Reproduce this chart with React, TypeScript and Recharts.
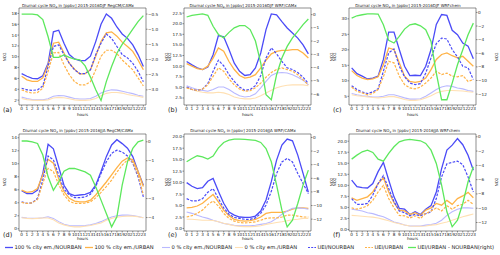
import React from 'react';
import { LineChart, Line, XAxis, YAxis, ReferenceLine } from 'recharts';

const HOURS = [0, 1, 2, 3, 4, 5, 6, 7, 8, 9, 10, 11, 12, 13, 14, 15, 16, 17, 18, 19, 20, 21, 22, 23];

// ---- Panel (a) DJF RegCM/CAMx
const a_nourban100 = [6.9, 6.4, 6.0, 5.95, 6.5, 8.8, 14.6, 14.9, 12.5, 10.4, 9.6, 9.3, 9.3, 10.1, 12.8, 16.0, 17.9, 17.1, 15.5, 14.2, 13.4, 12.2, 10.4, 8.2];
const a_urban100 = [6.4, 5.75, 5.45, 5.45, 6.1, 8.5, 12.5, 12.7, 10.7, 8.8, 7.7, 6.8, 6.9, 7.6, 10.1, 12.8, 14.4, 14.6, 13.8, 12.7, 11.9, 11.0, 9.4, 7.6];
const a_nourban0 = [2.55, 2.3, 2.1, 2.05, 2.05, 2.25, 2.7, 2.85, 2.8, 2.55, 2.3, 2.2, 2.2, 2.3, 2.7, 3.3, 3.7, 3.9, 3.85, 3.65, 3.4, 3.2, 2.9, 2.7];
const a_urban0 = [2.3, 2.1, 2.0, 1.95, 1.95, 2.05, 2.4, 2.5, 2.45, 2.25, 2.05, 1.95, 1.95, 2.05, 2.3, 2.8, 3.25, 3.4, 3.4, 3.3, 3.05, 2.85, 2.7, 2.5];
const a_nourbanUEI = [4.2, 3.9, 3.8, 3.9, 4.6, 8.2, 11.9, 12.2, 10.4, 8.8, 7.6, 6.9, 6.9, 7.6, 10.4, 12.5, 14.2, 13.4, 11.9, 10.4, 9.8, 8.8, 7.3, 5.4];
const a_urbanUEI = [3.9, 3.5, 3.3, 3.4, 4.2, 7.3, 10.7, 10.8, 8.5, 6.7, 5.4, 4.8, 4.8, 5.4, 7.6, 10.1, 11.2, 11.2, 10.6, 9.4, 8.5, 7.6, 6.1, 4.6];
const a_diff = [-0.5, -0.5, -0.5, -0.53, -0.68, -1.25, -1.93, -1.93, -1.85, -1.93, -1.99, -2.01, -2.21, -2.58, -3.0, -3.35, -2.73, -2.23, -1.79, -1.5, -1.25, -1.0, -0.75, -0.55];

// ---- Panel (b) DJF WRF/CAMx
const b_nourban100 = [11.1, 10.3, 9.6, 9.2, 9.8, 12.7, 17.2, 16.9, 13.9, 10.7, 8.8, 7.8, 8.0, 9.6, 13.1, 18.6, 22.3, 22.1, 20.5, 19.0, 17.8, 16.6, 15.0, 12.9];
const b_urban100 = [10.6, 10.0, 9.4, 9.2, 10.0, 11.9, 14.3, 13.5, 11.1, 9.2, 7.8, 7.2, 7.4, 8.0, 9.6, 11.4, 12.9, 13.5, 13.7, 13.7, 13.9, 13.9, 13.1, 11.9];
const b_nourban0 = [5.4, 4.9, 4.5, 4.3, 4.1, 4.5, 5.1, 5.1, 4.5, 3.7, 3.05, 2.75, 2.9, 3.5, 4.9, 6.4, 7.8, 8.4, 8.5, 8.4, 8.0, 7.4, 6.7, 5.6];
const b_urban0 = [4.9, 4.5, 4.1, 3.85, 3.7, 3.7, 3.85, 3.7, 3.3, 2.75, 2.45, 2.3, 2.3, 2.5, 3.05, 3.7, 4.3, 4.9, 5.25, 5.5, 5.6, 5.6, 5.6, 5.4];
const b_nourbanUEI = [5.1, 4.5, 4.3, 4.6, 5.9, 8.8, 11.4, 10.1, 8.0, 6.4, 5.1, 4.3, 4.5, 5.4, 7.8, 11.9, 14.3, 12.9, 11.1, 9.6, 9.2, 8.5, 7.4, 5.9];
const b_urbanUEI = [4.9, 4.5, 4.3, 4.6, 5.6, 7.6, 9.6, 8.8, 7.0, 5.6, 4.6, 4.1, 4.2, 4.9, 6.0, 7.4, 8.5, 9.2, 9.6, 9.2, 8.8, 8.0, 6.8, 5.6];
const b_diff = [-0.18, -0.05, 0.0, 0.05, -0.05, -0.88, -1.5, -1.76, -1.34, -1.0, -0.83, -0.83, -1.13, -2.0, -3.65, -6.05, -6.43, -4.54, -3.28, -2.4, -1.76, -1.26, -0.76, -0.33];

// ---- Panel (c) DJF WRFchem
const c_nourban100 = [14.2, 12.3, 11.5, 10.6, 10.9, 11.5, 16.9, 25.7, 25.7, 20.1, 14.7, 11.7, 11.8, 11.7, 14.7, 20.1, 28.2, 31.4, 31.1, 26.3, 24.9, 22.2, 21.2, 17.1];
const c_urban100 = [13.3, 11.7, 10.9, 10.4, 10.6, 11.3, 15.2, 20.6, 20.1, 15.8, 11.5, 9.8, 9.5, 9.8, 10.9, 13.6, 16.9, 18.5, 19.0, 18.1, 17.4, 17.9, 16.3, 14.7];
const c_nourban0 = [5.9, 5.5, 5.2, 5.0, 4.8, 4.8, 5.0, 5.5, 5.5, 5.0, 4.5, 4.1, 4.1, 4.2, 5.0, 6.1, 7.2, 8.0, 8.4, 8.2, 7.7, 7.4, 6.9, 6.6];
const c_urban0 = [5.5, 5.2, 5.0, 4.8, 4.6, 4.5, 4.6, 4.9, 4.9, 4.5, 4.0, 3.7, 3.7, 3.9, 4.5, 5.2, 6.1, 6.6, 6.9, 6.9, 6.8, 6.7, 6.5, 6.3];
const c_nourbanUEI = [8.4, 7.2, 6.4, 5.9, 6.4, 7.4, 13.1, 19.0, 20.3, 14.7, 11.3, 9.3, 8.8, 9.1, 12.5, 17.4, 22.0, 23.8, 23.5, 20.1, 17.7, 14.7, 14.2, 10.4];
const c_urbanUEI = [8.0, 6.6, 6.1, 5.5, 5.9, 7.2, 11.3, 16.3, 15.8, 11.5, 8.8, 7.7, 7.4, 8.0, 9.3, 10.9, 13.1, 12.0, 12.5, 11.5, 11.3, 11.7, 9.8, 10.4];
const c_diff = [-0.83, -0.49, -0.34, -0.2, -0.2, -0.24, -1.81, -4.11, -4.5, -3.53, -2.45, -1.81, -1.67, -1.96, -2.55, -4.26, -8.91, -12.83, -12.83, -10.38, -7.69, -5.48, -3.28, -1.57];

// ---- Panel (d) JJA RegCM/CAMx
const d_nourban100 = [5.85, 5.4, 5.4, 5.95, 8.5, 13.0, 12.3, 9.5, 6.7, 5.4, 5.1, 5.2, 5.3, 5.6, 6.7, 8.8, 11.1, 12.9, 13.7, 13.1, 12.4, 11.1, 8.8, 6.7];
const d_urban100 = [5.95, 5.6, 5.7, 6.2, 8.3, 10.7, 10.1, 7.7, 5.7, 4.7, 4.25, 4.15, 4.15, 4.4, 5.2, 6.2, 7.2, 8.3, 9.4, 10.4, 10.9, 10.6, 8.8, 6.5];
const d_nourban0 = [1.75, 1.65, 1.6, 1.6, 1.7, 1.85, 1.6, 1.1, 0.7, 0.5, 0.45, 0.45, 0.5, 0.6, 0.8, 1.1, 1.45, 1.8, 2.0, 2.1, 2.1, 2.05, 1.9, 1.7];
const d_urban0 = [1.7, 1.6, 1.55, 1.6, 1.65, 1.65, 1.4, 0.9, 0.6, 0.4, 0.3, 0.3, 0.4, 0.5, 0.7, 0.9, 1.3, 1.6, 1.8, 1.9, 1.95, 1.95, 1.85, 1.7];
const d_nourbanUEI = [4.15, 3.9, 4.0, 4.7, 7.5, 11.2, 10.6, 8.3, 6.1, 5.2, 4.8, 4.8, 4.9, 5.3, 6.5, 8.5, 10.3, 11.6, 12.1, 11.8, 11.2, 10.1, 8.0, 4.9];
const d_urbanUEI = [4.05, 3.9, 4.0, 4.5, 7.0, 9.3, 8.8, 6.8, 5.2, 4.25, 3.9, 3.9, 3.95, 4.15, 4.75, 5.6, 6.5, 7.5, 8.7, 9.8, 10.6, 10.3, 8.3, 5.2];
const d_diff = [0.04, 0.04, 0.0, -0.09, -0.7, -1.85, -2.56, -2.11, -1.55, -1.41, -1.41, -1.5, -1.59, -1.76, -2.38, -3.08, -3.79, -4.49, -3.96, -2.29, -1.06, -0.35, 0.0, 0.09];

// ---- Panel (e) JJA WRF/CAMx
const e_nourban100 = [10.0, 9.2, 8.7, 8.9, 10.3, 10.9, 8.1, 5.5, 3.6, 2.9, 2.5, 2.4, 2.4, 2.7, 3.8, 6.2, 10.2, 14.9, 18.2, 19.5, 19.1, 16.0, 12.0, 7.9];
const e_urban100 = [4.5, 4.6, 4.9, 5.5, 6.5, 7.4, 5.8, 4.0, 2.8, 2.0, 1.7, 1.6, 1.7, 2.0, 2.5, 3.3, 3.5, 3.5, 3.5, 3.8, 4.2, 4.5, 4.5, 4.4];
const e_nourban0 = [3.6, 3.3, 2.9, 2.5, 2.2, 1.8, 1.45, 1.1, 0.9, 0.7, 0.6, 0.6, 0.6, 0.7, 0.9, 1.1, 1.45, 2.2, 3.1, 3.8, 4.4, 4.5, 4.4, 4.2];
const e_urban0 = [2.0, 2.0, 1.9, 1.8, 1.8, 1.75, 1.45, 1.15, 0.9, 0.6, 0.45, 0.4, 0.4, 0.45, 0.6, 0.9, 1.1, 1.3, 1.45, 1.7, 1.9, 2.0, 2.2, 2.2];
const e_nourbanUEI = [6.5, 6.0, 6.0, 6.5, 7.9, 8.7, 6.5, 4.5, 3.1, 2.4, 2.2, 2.0, 2.0, 2.3, 3.3, 5.1, 8.1, 12.0, 14.5, 15.3, 14.5, 12.0, 9.8, 7.6];
const e_urbanUEI = [2.5, 2.8, 3.3, 4.0, 5.2, 6.0, 4.9, 3.3, 2.2, 1.6, 1.3, 1.2, 1.3, 1.45, 1.8, 2.2, 2.3, 2.3, 2.5, 2.9, 2.9, 2.7, 2.5, 2.5];
const e_diff = [-3.57, -3.09, -2.69, -2.84, -3.18, -2.74, -1.52, -0.73, -0.39, -0.24, -0.24, -0.29, -0.34, -0.44, -0.73, -1.62, -3.57, -7.0, -10.68, -13.12, -12.14, -9.7, -7.0, -4.8];

// ---- Panel (f) JJA WRFchem
const f_nourban100 = [11.2, 9.7, 9.5, 9.4, 10.4, 13.1, 15.2, 11.2, 7.4, 4.8, 4.6, 3.4, 4.0, 3.4, 4.6, 5.4, 8.5, 13.8, 18.0, 19.1, 20.6, 19.2, 16.8, 13.4];
const f_urban100 = [7.2, 6.6, 7.0, 7.4, 8.5, 10.4, 11.7, 8.5, 6.1, 4.4, 4.2, 3.4, 3.8, 3.2, 4.4, 4.9, 5.9, 5.5, 6.6, 5.7, 7.0, 7.6, 8.4, 7.2];
const f_nourban0 = [4.6, 4.4, 4.2, 3.8, 3.6, 3.2, 2.9, 2.3, 1.7, 1.4, 1.0, 0.8, 0.8, 0.8, 1.0, 1.1, 1.4, 2.1, 3.2, 4.0, 4.6, 4.9, 4.9, 4.8];
const f_urban0 = [3.2, 3.1, 3.0, 2.9, 2.8, 2.6, 2.3, 2.0, 1.6, 1.3, 1.0, 0.8, 0.75, 0.75, 0.8, 1.0, 1.1, 1.4, 1.7, 2.1, 2.5, 2.9, 3.2, 3.5];
const f_nourbanUEI = [7.0, 5.7, 5.7, 5.9, 7.8, 10.4, 12.2, 9.3, 6.3, 4.2, 3.8, 3.1, 3.4, 3.1, 3.6, 4.0, 7.0, 11.9, 14.9, 15.2, 15.5, 14.7, 11.9, 8.5];
const f_urbanUEI = [4.9, 4.6, 4.9, 5.4, 6.6, 8.5, 10.0, 7.0, 4.9, 3.2, 3.1, 2.6, 3.1, 2.5, 3.6, 4.2, 4.9, 4.2, 5.4, 4.6, 5.4, 5.7, 6.6, 5.7];
const f_diff = [-3.13, -2.57, -2.1, -1.87, -2.19, -3.13, -3.41, -2.33, -1.4, -0.7, -0.47, -0.37, -0.47, -0.56, -0.93, -1.87, -3.73, -6.77, -10.5, -12.6, -11.67, -9.34, -6.3, -4.2];

// ---- Tick labels
const a_leftTicks = [2, 4, 6, 8, 10, 12, 14, 16, 18];
const a_rightTicks = [-0.5, -1.0, -1.5, -2.0, -2.5, -3.0];
const b_leftTicks = [2.5, 5.0, 7.5, 10.0, 12.5, 15.0, 17.5, 20.0, 22.5];
const b_rightTicks = [0, -1, -2, -3, -4, -5, -6];
const c_leftTicks = [5, 10, 15, 20, 25, 30];
const c_rightTicks = [0, -2, -4, -6, -8, -10, -12];
const d_leftTicks = [0, 2, 4, 6, 8, 10, 12, 14];
const d_rightTicks = [0, -1, -2, -3, -4];
const e_leftTicks = [0.0, 2.5, 5.0, 7.5, 10.0, 12.5, 15.0, 17.5, 20.0];
const e_rightTicks = [0, -2, -4, -6, -8, -10, -12];
const f_leftTicks = [0.0, 2.5, 5.0, 7.5, 10.0, 12.5, 15.0, 17.5, 20.0];
const f_rightTicks = [0, -2, -4, -6, -8, -10, -12];

const TITLE_PREFIX = 'Diurnal cycle NO';
const TITLE_MID = ' in [ppbv] ';
const SERIES_NAMES = [
  '100 % city em./NOURBAN',
  '100 % city em./URBAN',
  '0 % city em./NOURBAN',
  '0 % city em./URBAN',
  'UEI/NOURBAN',
  'UEI/URBAN',
  'UEI/URBAN - NOURBAN(right)',
];

// ---- styles
const BLUE = '#4b4bf7';
const ORANGE = '#ffb347';
const LBLUE = '#b9b9ff';
const LORANGE = '#ffe0b3';
const GREEN = '#5de85d';
const AXIS = '#444';
const FONT = 'DejaVu Sans, sans-serif';

const STYLES = [
  { stroke: BLUE, w: 1.3, dash: undefined },
  { stroke: ORANGE, w: 1.3, dash: undefined },
  { stroke: LBLUE, w: 1.1, dash: undefined },
  { stroke: LORANGE, w: 1.1, dash: undefined },
  { stroke: BLUE, w: 1.2, dash: '2.6 1.4' },
  { stroke: ORANGE, w: 1.2, dash: '2.6 1.4' },
  { stroke: GREEN, w: 1.3, dash: undefined },
];
const KEYS = ['n100', 'u100', 'n0', 'u0', 'nU', 'uU', 'diff'];

const PW = 127;
const PH = 97;

const fmt = (dec: number) => (v: number) => (v < 0 ? '\u2212' : '') + Math.abs(v).toFixed(dec);

const panels = [
  { letter: '(a)', period: '2015-2016DJF RegCM/CAMx', pl: 19, pt: 8.3, data: [a_nourban100, a_urban100, a_nourban0, a_urban0, a_nourbanUEI, a_urbanUEI, a_diff], lDom: [1.1, 19.0], lTicks: a_leftTicks, lDec: 0, rDom: [-3.5, -0.3], rTicks: a_rightTicks, rDec: 1 },
  { letter: '(b)', period: '2015-2016DJF WRF/CAMx', pl: 184, pt: 8.3, data: [b_nourban100, b_urban100, b_nourban0, b_urban0, b_nourbanUEI, b_urbanUEI, b_diff], lDom: [0.85, 23.7], lTicks: b_leftTicks, lDec: 1, rDom: [-6.83, 0.5], rTicks: b_rightTicks, rDec: 0 },
  { letter: '(c)', period: '2015-2016DJF WRFchem', pl: 349, pt: 8.3, data: [c_nourban100, c_urban100, c_nourban0, c_urban0, c_nourbanUEI, c_urbanUEI, c_diff], lDom: [2.2, 33.5], lTicks: c_leftTicks, lDec: 0, rDom: [-13.6, 0.65], rTicks: c_rightTicks, rDec: 0 },
  { letter: '(d)', period: '2015-2016JJA RegCM/CAMx', pl: 19, pt: 133.5, data: [d_nourban100, d_urban100, d_nourban0, d_urban0, d_nourbanUEI, d_urbanUEI, d_diff], lDom: [-0.34, 14.58], lTicks: d_leftTicks, lDec: 0, rDom: [-4.71, 0.41], rTicks: d_rightTicks, rDec: 0 },
  { letter: '(e)', period: '2015-2016JJA WRF/CAMx', pl: 184, pt: 133.5, data: [e_nourban100, e_urban100, e_nourban0, e_urban0, e_nourbanUEI, e_urbanUEI, e_diff], lDom: [-0.55, 20.6], lTicks: e_leftTicks, lDec: 1, rDom: [-13.74, 0.51], rTicks: e_rightTicks, rDec: 0 },
  { letter: '(f)', period: '2015-2016JJA WRFchem', pl: 349, pt: 133.5, data: [f_nourban100, f_urban100, f_nourban0, f_urban0, f_nourbanUEI, f_urbanUEI, f_diff], lDom: [-0.34, 21.63], lTicks: f_leftTicks, lDec: 1, rDom: [-13.19, 0.39], rTicks: f_rightTicks, rDec: 0 },
];

const tickStyle = { fontSize: 4.2, fill: '#222', fontFamily: FONT };

function Panel({ p }: { p: any }) {
  const rows = HOURS.map((h, i) => {
    const r: any = { h };
    KEYS.forEach((k, j) => { r[k] = p.data[j][i]; });
    return r;
  });
  return (
    <div style={{ position: 'absolute', left: p.pl - 20, top: p.pt - 2 }}>
      <LineChart width={PW + 40} height={PH + 16} data={rows} margin={{ top: 2, right: 0, bottom: 0, left: 0 }}>
        <XAxis dataKey="h" type="number" domain={[-0.5, 23.5]} ticks={HOURS} interval={0} allowDataOverflow
          height={14} tick={tickStyle} tickSize={1.5} tickMargin={0.3} stroke={AXIS} strokeWidth={0.6} />
        <YAxis yAxisId="L" width={20} domain={p.lDom} ticks={p.lTicks} allowDataOverflow interval={0}
          tickFormatter={fmt(p.lDec)} tick={tickStyle} tickSize={1.5} tickMargin={0.6} stroke={AXIS} strokeWidth={0.6} />
        <YAxis yAxisId="R" orientation="right" width={20} domain={p.rDom} ticks={p.rTicks} allowDataOverflow interval={0}
          tickFormatter={fmt(p.rDec)} tick={tickStyle} tickSize={1.5} tickMargin={0.6} stroke={AXIS} strokeWidth={0.6} />
        <ReferenceLine yAxisId="L" y={p.lDom[1]} stroke={AXIS} strokeWidth={0.6} ifOverflow="visible" />
        {KEYS.map((k, j) => (
          <Line key={k} yAxisId={j === 6 ? 'R' : 'L'} dataKey={k} type="linear" dot={false} activeDot={false}
            stroke={STYLES[j].stroke} strokeWidth={STYLES[j].w} strokeDasharray={STYLES[j].dash}
            isAnimationActive={false} />
        ))}
      </LineChart>
    </div>
  );
}

const legendX = [5, 85, 162, 235, 308, 365, 408];

export default function App() {
  return (
    <div style={{ position: 'absolute', left: 0, top: 0, width: 500, height: 255, background: '#fff', overflow: 'hidden', fontFamily: FONT }}>
      {panels.map((p) => <Panel key={p.letter} p={p} />)}
      <svg width={500} height={255} style={{ position: 'absolute', left: 0, top: 0, pointerEvents: 'none' }} fontFamily={FONT}>
        {panels.map((p) => {
          const pb = p.pt + PH;
          const cy = p.pt + PH / 2;
          return (
            <g key={p.letter}>
              <text x={p.pl + 59} y={p.pt - 1.3} fontSize={4} textAnchor="middle" fill="#222">
                {TITLE_PREFIX}<tspan fontSize={2.8} dy={0.8}>2</tspan><tspan dy={-0.8}>{TITLE_MID + p.period}</tspan>
              </text>
              <text x={p.pl - 16} y={pb + 6.5} fontSize={6.5} fill="#222">{p.letter}</text>
              <text x={p.pl + PW / 2} y={pb + (p.pt < 100 ? 11 : 9.5)} fontSize={4} textAnchor="middle" fill="#222">hours</text>
              <text transform={`translate(${p.pl - 13.5},${cy}) rotate(-90)`} fontSize={4} textAnchor="middle" fill="#222">NO2</text>
              <text transform={`translate(${p.pl + PW + 22},${cy}) rotate(-90)`} fontSize={4} textAnchor="middle" fill="#222">NO2</text>
            </g>
          );
        })}
        {SERIES_NAMES.map((name, j) => {
          const x = legendX[j];
          const y = 247.5;
          return (
            <g key={name}>
              <line x1={x} x2={x + 8} y1={y} y2={y} stroke={STYLES[j].stroke} strokeWidth={STYLES[j].w} strokeDasharray={STYLES[j].dash ? '2 1.2' : undefined} />
              <text x={x + 9.5} y={y + 1.8} fontSize={5.2} fill="#222">{name}</text>
            </g>
          );
        })}
      </svg>
    </div>
  );
}
